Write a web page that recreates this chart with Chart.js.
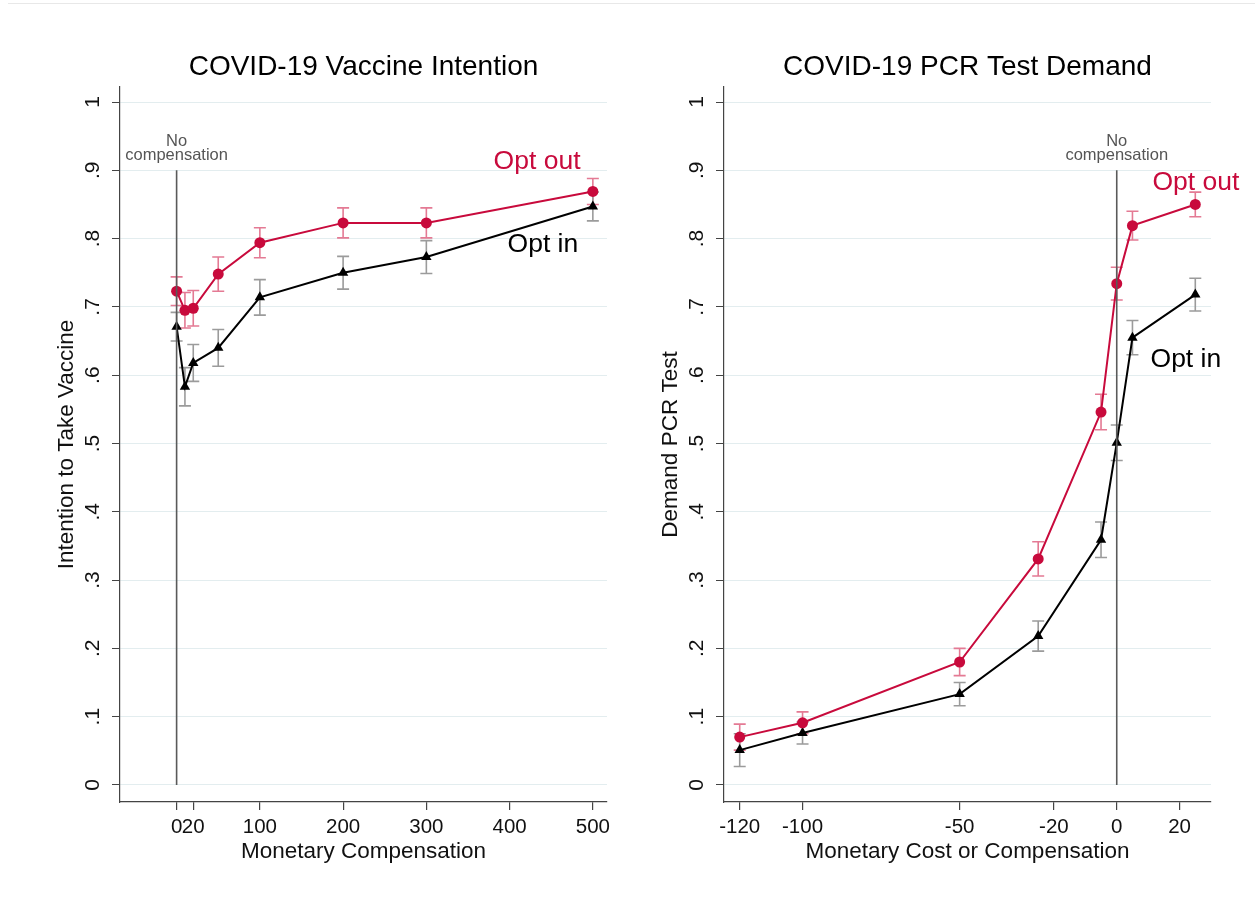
<!DOCTYPE html>
<html><head><meta charset="utf-8">
<script src="https://cdn.jsdelivr.net/npm/chart.js@4/dist/chart.umd.min.js"></script>
<style>
html,body{margin:0;padding:0;background:#fff;}
body{width:1255px;height:909px;position:relative;overflow:hidden;}
.box{position:absolute;top:0;height:880px;}
.topline{position:absolute;top:3px;left:8px;right:0;height:1px;background:#e8e8e8;}
</style></head><body>
<div class="topline"></div>
<div class="box" style="left:0;width:625px"><canvas id="c1"></canvas></div>
<div class="box" style="left:604px;width:651px"><canvas id="c2"></canvas></div>
<script>
// ---------- data ----------
const yTickValues = [0, 0.1, 0.2, 0.3, 0.4, 0.5, 0.6, 0.7, 0.8, 0.9, 1];
const yTickLabels = ["0", ".1", ".2", ".3", ".4", ".5", ".6", ".7", ".8", ".9", "1"];

// COVID-19 Vaccine Intention
const vaxX = [0, 10, 20, 50, 100, 200, 300, 500];
const vaxOptOut = [0.723, 0.695, 0.698, 0.748, 0.794, 0.823, 0.823, 0.869];
const vaxOptOutErr = [0.021, 0.026, 0.026, 0.025, 0.022, 0.022, 0.022, 0.019];
const vaxOptIn = [0.671, 0.583, 0.618, 0.640, 0.714, 0.750, 0.773, 0.847];
const vaxOptInErr = [0.021, 0.028, 0.027, 0.027, 0.026, 0.024, 0.024, 0.021];
const vaxXTicks = [0, 20, 100, 200, 300, 400, 500];

// COVID-19 PCR Test Demand
const pcrX = [-120, -100, -50, -25, -5, 0, 5, 25];
const pcrOptOut = [0.070, 0.091, 0.180, 0.331, 0.546, 0.734, 0.819, 0.850];
const pcrOptOutErr = [0.019, 0.016, 0.020, 0.025, 0.026, 0.024, 0.021, 0.018];
const pcrOptIn = [0.051, 0.076, 0.133, 0.218, 0.359, 0.501, 0.655, 0.718];
const pcrOptInErr = [0.024, 0.016, 0.017, 0.022, 0.026, 0.026, 0.025, 0.024];
const pcrXTicks = [-120, -100, -50, -20, 0, 20];

// series labels placed in data coordinates
const vaxLabels = [
  {text: "Opt out", x: 433, y: 0.912, series: "out"},
  {text: "Opt in", x: 440, y: 0.791, series: "in"}
];
const pcrLabels = [
  {text: "Opt out", x: 25.2, y: 0.882, series: "out"},
  {text: "Opt in", x: 22, y: 0.622, series: "in"}
];
const noCompLines = ["No", "compensation"];
const noCompTop = 0.9;

// ---------- styles ----------
const FONT = '"Liberation Sans", Arial, Helvetica, sans-serif';
Chart.defaults.font.family = FONT;
const RED = '#c80a3c';
const RED_ERR = '#e47a94';
const BLACK = '#000000';
const GRAY_ERR = '#9b9b9b';
const AXIS = '#444444';
const GRID = '#e3edef';

function pts(xs, ys) { return xs.map((x, i) => ({x: x, y: ys[i]})); }

const errorBarPlugin = {
  id: 'errorBars',
  beforeDatasetsDraw(chart) {
    const ctx = chart.ctx, xs = chart.scales.x, ys = chart.scales.y;
    chart.data.datasets.forEach(ds => {
      if (!ds.errors) return;
      ctx.save();
      ctx.strokeStyle = ds.errorColor;
      ctx.lineWidth = 1.6;
      ds.data.forEach((p, i) => {
        const px = xs.getPixelForValue(p.x);
        const top = ys.getPixelForValue(p.y + ds.errors[i]);
        const bot = ys.getPixelForValue(p.y - ds.errors[i]);
        ctx.beginPath();
        ctx.moveTo(px, top); ctx.lineTo(px, bot);
        ctx.moveTo(px - 6, top); ctx.lineTo(px + 6, top);
        ctx.moveTo(px - 6, bot); ctx.lineTo(px + 6, bot);
        ctx.stroke();
      });
      ctx.restore();
    });
  }
};

const textPlugin = {
  id: 'texts',
  afterDraw(chart, args, opts) {
    const ctx = chart.ctx, xs = chart.scales.x, ys = chart.scales.y;
    ctx.save();
    // rotated y tick labels
    ctx.fillStyle = '#111';
    ctx.font = '21px ' + FONT;
    ctx.textAlign = 'center';
    ctx.textBaseline = 'middle';
    yTickValues.forEach((v, i) => {
      const py = ys.getPixelForValue(v);
      ctx.save();
      ctx.translate(chart.chartArea.left - 27, py);
      ctx.rotate(-Math.PI / 2);
      ctx.fillText(yTickLabels[i], 0, 0);
      ctx.restore();
    });
    // no compensation label
    ctx.fillStyle = '#555';
    ctx.font = '16.5px ' + FONT;
    const nx = xs.getPixelForValue(0);
    const ny = ys.getPixelForValue(noCompTop);
    ctx.fillText(noCompLines[0], nx, ny - 29);
    ctx.fillText(noCompLines[1], nx, ny - 15);
    // series labels
    ctx.font = '26.5px ' + FONT;
    opts.labels.forEach(l => {
      ctx.fillStyle = l.series === 'out' ? RED : BLACK;
      ctx.fillText(l.text, xs.getPixelForValue(l.x), ys.getPixelForValue(l.y));
    });
    ctx.restore();
  }
};

function makeChart(id, cfg) {
  return new Chart(document.getElementById(id), {
    type: 'line',
    data: {
      datasets: [
        {data: [{x: 0, y: 0}, {x: 0, y: noCompTop}], borderColor: '#5a5a5a', borderWidth: 1.6, pointRadius: 0},
        {data: pts(cfg.x, cfg.out), errors: cfg.outErr, errorColor: RED_ERR,
         borderColor: RED, backgroundColor: RED, borderWidth: 2, pointStyle: 'circle', pointRadius: 5.5, pointBorderWidth: 0},
        {data: pts(cfg.x, cfg.inn), errors: cfg.inErr, errorColor: GRAY_ERR,
         borderColor: BLACK, backgroundColor: BLACK, borderWidth: 2, pointStyle: 'triangle', pointRadius: 6, pointBorderWidth: 0}
      ]
    },
    plugins: [errorBarPlugin, textPlugin],
    options: {
      responsive: true, maintainAspectRatio: false, animation: false, devicePixelRatio: 1,
      layout: {padding: {left: 0, right: cfg.padRight, top: 0, bottom: 0}},
      plugins: {
        legend: {display: false}, tooltip: {enabled: false},
        title: {display: true, text: cfg.title, fullSize: false, color: '#000',
                font: {size: 28, weight: 'normal', family: FONT}, padding: {top: 50, bottom: 3.4}},
        texts: {labels: cfg.labels}
      },
      scales: {
        x: {
          type: 'linear', min: cfg.xmin, max: cfg.xmax,
          afterBuildTicks: s => { s.ticks = cfg.xticks.map(v => ({value: v})); },
          afterFit: s => { s.height = 78; },
          ticks: {autoSkip: false, maxRotation: 0, minRotation: 0, color: '#111', padding: 5,
                  font: {size: 20.5}, callback: v => String(v)},
          grid: {drawOnChartArea: false, tickLength: 8, tickColor: AXIS, lineWidth: 1.2},
          border: {color: AXIS, width: 1.2},
          title: {display: true, text: cfg.xtitle, color: '#111', font: {size: 22.5}, padding: {top: 0, bottom: 15}}
        },
        y: {
          type: 'linear', min: -0.025, max: 1.022,
          afterBuildTicks: s => { s.ticks = yTickValues.map(v => ({value: v})); },
          afterFit: s => { s.width = 120; },
          ticks: {display: false},
          grid: {color: GRID, lineWidth: 1, tickLength: 8, tickColor: AXIS},
          border: {color: AXIS, width: 1.2},
          title: {display: true, text: cfg.ytitle, color: '#111', font: {size: 22.5}, padding: {top: 53, bottom: 0}}
        }
      }
    }
  });
}

makeChart('c1', {
  title: 'COVID-19 Vaccine Intention', xtitle: 'Monetary Compensation', ytitle: 'Intention to Take Vaccine',
  x: vaxX, out: vaxOptOut, outErr: vaxOptOutErr, inn: vaxOptIn, inErr: vaxOptInErr,
  xticks: vaxXTicks, xmin: -68, xmax: 517, labels: vaxLabels, padRight: 18
});
makeChart('c2', {
  title: 'COVID-19 PCR Test Demand', xtitle: 'Monetary Cost or Compensation', ytitle: 'Demand PCR Test',
  x: pcrX, out: pcrOptOut, outErr: pcrOptOutErr, inn: pcrOptIn, inErr: pcrOptInErr,
  xticks: pcrXTicks, xmin: -125, xmax: 30, labels: pcrLabels, padRight: 44
});
</script>
</body></html>
